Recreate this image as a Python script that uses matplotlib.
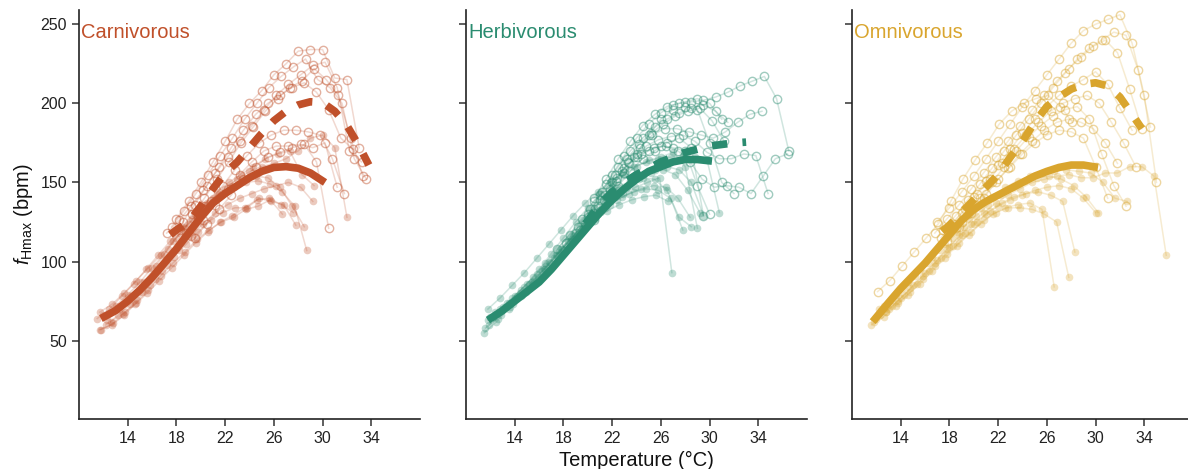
import matplotlib
matplotlib.use('Agg')
import matplotlib.pyplot as plt

plt.rcParams['font.family'] = ['Liberation Sans', 'DejaVu Sans']
plt.rcParams['mathtext.fontset'] = 'custom'
plt.rcParams['mathtext.rm'] = 'Liberation Sans'
plt.rcParams['mathtext.it'] = 'Liberation Sans:italic'

# --- data ---
groups = ['Carnivorous', 'Herbivorous', 'Omnivorous']
colors = {'Carnivorous': '#C0502A', 'Herbivorous': '#2A8C70', 'Omnivorous': '#D9A52E'}

# individual fish: (start temperature, fHmax at ~1 degC steps)
carn_warm = [
    (18.0, [127, 138, 150, 163, 176, 190, 200, 208, 218, 225, 233, 234, 234, 216, 215, 172]),
    (17.6, [122, 132, 143, 155, 167, 178, 190, 200, 210, 217, 223, 228, 215, 210, 200, 165, 152]),
    (18.3, [120, 130, 140, 152, 163, 175, 185, 195, 203, 210, 214, 222, 215, 205, 178, 154]),
    (18.8, [118, 128, 138, 148, 158, 167, 175, 180, 183, 183, 182, 180, 165, 143]),
    (19.2, [116, 126, 136, 146, 155, 163, 170, 173, 173, 174, 172, 175, 147]),
    (19.5, [115, 124, 133, 142, 152, 160, 166, 169, 172, 174, 163, 121]),
    (18.5, [125, 136, 148, 160, 172, 183, 193, 200, 205, 210, 213, 207, 196, 178, 171]),
    (17.2, [118, 126, 135, 145, 156, 166, 176, 186, 196, 205, 212, 218, 224, 226, 210, 170, 163]),
]
carn_cold = [
    (11.7, [57, 60, 66, 74, 82, 91, 99, 106, 114, 120, 125, 128, 133, 135, 139, 130]),
    (11.8, [57, 61, 68, 76, 85, 94, 103, 111, 119, 126, 131, 134, 134, 140, 138, 136, 123]),
    (11.7, [68, 73, 80, 88, 96, 104, 113, 121, 129, 136, 142, 147, 150, 151, 149, 144, 135, 107]),
    (12.0, [66, 72, 79, 87, 96, 105, 115, 124, 132, 140, 146, 152, 157, 160, 162, 165, 170, 178, 180, 172, 128]),
    (12.3, [63, 70, 78, 87, 97, 108, 118, 127, 136, 144, 150, 155, 160, 165, 168, 170, 155, 148]),
    (11.5, [64, 70, 78, 86, 95, 104, 113, 122, 130, 137, 143, 148, 152, 154, 153, 147, 135, 122]),
    (12.6, [62, 67, 73, 80, 88, 96, 104, 112, 119, 125, 129, 134, 139, 140, 136, 131]),
    (12.2, [60, 66, 73, 81, 89, 98, 107, 116, 124, 131, 136, 140, 143, 146, 148, 150, 147, 138]),
]
herb_warm = [
    (20.5, [140, 152, 165, 176, 186, 193, 198, 200, 201, 202, 204, 207, 211, 214, 217, 203, 170]),
    (20.0, [130, 142, 155, 167, 178, 187, 194, 199, 201, 203, 200, 190]),
    (20.3, [127, 139, 151, 163, 172, 180, 184, 184, 182, 180, 178, 182, 188, 193, 195]),
    (19.8, [124, 135, 146, 157, 166, 173, 177, 179, 180, 176, 169, 165, 165, 168, 167, 143]),
    (19.0, [118, 128, 139, 150, 159, 166, 170, 173, 172, 170, 148, 130]),
    (20.5, [126, 137, 148, 157, 165, 170, 175, 178, 172, 129]),
    (21.0, [132, 144, 156, 168, 180, 190, 196, 198, 196, 175, 150, 143]),
    (19.4, [120, 131, 142, 153, 162, 168, 172, 173, 170, 163, 152, 147, 148, 147, 143, 154, 165, 168]),
    (17.5, [108, 117, 127, 138, 149, 160, 170, 178, 185, 190, 194, 197, 199, 195, 188]),
    (18.2, [112, 122, 133, 144, 155, 165, 174, 181, 187, 192, 195, 197, 189, 176]),
]
herb_cold = [
    (11.5, [55, 62, 70, 78, 86, 95, 104, 113, 122, 130, 138, 145, 151, 155, 158, 160, 158, 150, 129]),
    (11.9, [60, 66, 73, 81, 90, 99, 108, 117, 125, 132, 138, 143, 147, 150, 153, 93]),
    (12.2, [65, 71, 78, 86, 94, 102, 110, 118, 126, 134, 141, 147, 152, 156, 158, 155, 145, 131]),
    (12.5, [67, 74, 82, 90, 99, 108, 117, 126, 134, 141, 147, 151, 153, 152, 145, 128, 122]),
    (11.8, [63, 70, 77, 84, 92, 100, 108, 116, 123, 130, 136, 141, 144, 146, 145, 140, 120]),
    (11.8, [70, 77, 85, 93, 102, 111, 120, 129, 137, 144, 150, 156, 160, 163, 165, 166, 167, 166, 164, 131]),
    (12.4, [68, 74, 80, 87, 95, 104, 113, 121, 128, 134, 139, 143, 146, 148, 147, 140, 128]),
    (11.6, [58, 64, 71, 79, 88, 97, 106, 114, 121, 127, 132, 136, 139, 141, 142, 138]),
    (12.0, [65, 71, 78, 86, 95, 105, 115, 125, 134, 142, 149, 155, 160, 164, 166, 169, 160, 121]),
]
omni_warm = [
    (17.0, [125, 134, 144, 154, 165, 176, 187, 198, 208, 218, 228, 238, 246, 250, 253, 256, 238, 205, 150]),
    (17.5, [120, 129, 139, 149, 159, 170, 180, 190, 200, 210, 219, 228, 235, 240, 245, 243, 221, 185]),
    (16.8, [118, 127, 136, 146, 156, 166, 176, 186, 196, 205, 214, 222, 229, 236, 240, 232, 209, 184]),
    (18.0, [122, 131, 141, 151, 161, 171, 181, 190, 198, 205, 211, 215, 220, 212, 197, 183]),
    (17.3, [115, 124, 133, 143, 152, 162, 171, 180, 188, 195, 200, 203, 205, 200, 188, 175, 160]),
    (18.5, [121, 130, 140, 150, 160, 170, 179, 186, 192, 196, 198, 190, 168, 148, 135]),
    (17.8, [113, 122, 131, 140, 150, 159, 168, 176, 183, 188, 190, 188, 184, 175, 162]),
    (19.0, [125, 134, 143, 152, 160, 168, 175, 180, 183, 182, 178, 160, 140]),
    (12.1, [81, 88, 97, 106, 115, 124, 138, 152, 164, 175, 187, 195, 200, 203, 205, 198, 188]),
]
omni_cold = [
    (11.8, [62, 68, 75, 83, 91, 99, 108, 116, 124, 131, 137, 142, 146, 150, 152, 154, 155, 153, 153, 156, 156, 160, 160, 154, 104]),
    (12.0, [64, 70, 77, 85, 93, 101, 109, 117, 124, 130, 135, 139, 142, 145, 147, 148, 146, 140, 131]),
    (12.3, [66, 72, 79, 86, 94, 102, 110, 118, 125, 132, 137, 141, 143, 144, 142, 138, 106]),
    (12.8, [68, 74, 81, 89, 97, 105, 112, 119, 126, 131, 134, 134, 133, 130, 125, 90]),
    (11.6, [60, 65, 72, 79, 86, 94, 102, 110, 117, 124, 130, 134, 136, 137, 133, 84]),
    (12.2, [70, 76, 83, 91, 99, 107, 115, 122, 129, 136, 142, 147, 151, 153, 154, 152, 148, 141, 131]),
    (12.6, [72, 79, 87, 95, 103, 111, 119, 127, 134, 141, 147, 151, 154, 156, 157, 158, 157, 156, 150, 140, 138]),
]

# group mean fits
carn_fit_cold_t = [11.8, 13, 14, 15, 16, 17, 18, 19, 20, 21, 22, 23, 24, 25, 26, 27, 28, 29, 30.2]
carn_fit_cold = [64, 69, 75, 82, 90, 99, 108, 118, 128, 137, 143, 148, 153, 157, 159.5, 160, 159, 156, 150]
carn_fit_warm_t = [17.5, 18, 19, 20, 21, 22, 23, 24, 25, 26, 27, 28, 29, 30, 31, 32, 33, 33.8]
carn_fit_warm = [117, 120, 125, 135, 146, 156, 163, 172, 181, 189, 195, 199, 201, 200.5, 195, 186, 173, 161]
herb_fit_cold_t = [11.8, 13, 14, 15, 16, 17, 18, 19, 20, 21, 22, 23, 24, 25, 26, 27, 28, 29, 30.2]
herb_fit_cold = [63, 69, 75, 81, 87, 95, 104, 113, 122, 131, 139, 146, 152, 157, 160, 163, 164.5, 164.5, 163.5]
herb_fit_warm_t = [19.8, 21, 22, 23, 24, 25, 26, 27, 28, 29, 30, 31, 32, 33]
herb_fit_warm = [124, 136, 144, 150, 155, 159, 163, 166, 169, 171, 173, 174, 175, 175.5]
omni_fit_cold_t = [11.7, 13, 14, 15, 16, 17, 18, 19, 20, 21, 22, 23, 24, 25, 26, 27, 28, 29, 30.2]
omni_fit_cold = [62, 74, 83, 91, 99, 108, 117, 126, 133, 138, 142, 146, 150, 154, 157, 159.5, 161, 161, 159.5]
omni_fit_warm_t = [17.4, 18, 19, 20, 21, 22, 23, 24, 25, 26, 27, 28, 29, 30, 31, 32, 33, 33.8]
omni_fit_warm = [119, 123, 131, 139, 147, 155, 166, 176, 188, 198, 204, 209, 212, 213, 211, 204, 193, 184]

panels = {
    'Carnivorous': (carn_warm, carn_cold, carn_fit_cold_t, carn_fit_cold, carn_fit_warm_t, carn_fit_warm),
    'Herbivorous': (herb_warm, herb_cold, herb_fit_cold_t, herb_fit_cold, herb_fit_warm_t, herb_fit_warm),
    'Omnivorous': (omni_warm, omni_cold, omni_fit_cold_t, omni_fit_cold, omni_fit_warm_t, omni_fit_warm),
}

fig = plt.figure(figsize=(11.88, 4.69), dpi=100)
lefts = [79, 466, 852]
for i, g in enumerate(groups):
    ax = fig.add_axes([lefts[i] / 1188, 1 - 419 / 469, 341 / 1188, 409 / 469])
    col = colors[g]
    warm, cold, fct, fc, fwt, fw = panels[g]
    for t0, vals in cold:
        ts = [t0 + k for k in range(len(vals))]
        ax.plot(ts, vals, '-', color=col, alpha=0.22, lw=1.1, zorder=1)
        ax.plot(ts, vals, 'o', color=col, alpha=0.3, ms=5.5, mew=0, zorder=2)
    for t0, vals in warm:
        ts = [t0 + k for k in range(len(vals))]
        ax.plot(ts, vals, '-', color=col, alpha=0.22, lw=1.1, zorder=1)
        ax.plot(ts, vals, 'o', mfc='none', mec=col, alpha=0.45, ms=6, mew=1.0, zorder=2)
    ax.plot(fct, fc, '-', color=col, lw=5.5, solid_capstyle='butt', zorder=3)
    ax.plot(fwt, fw, color=col, lw=5.5, dashes=(2, 2), dash_capstyle='butt', zorder=3)

    ax.set_xlim(10, 38)
    ax.set_ylim(0.5, 259)
    ax.set_xticks([14, 18, 22, 26, 30, 34])
    ax.set_yticks([50, 100, 150, 200, 250])
    ax.spines['top'].set_visible(False)
    ax.spines['right'].set_visible(False)
    for s in ['left', 'bottom']:
        ax.spines[s].set_linewidth(1.2)
        ax.spines[s].set_color('#222222')
    ax.tick_params(length=5, width=1.1, color='#333333', labelsize=11.5, labelcolor='#222222')
    if i > 0:
        ax.set_yticklabels([])
    else:
        ax.set_ylabel(r'$f_{\mathrm{Hmax}}$ (bpm)', fontsize=14.5, color='#111111')
    if i == 1:
        ax.set_xlabel('Temperature (°C)', fontsize=14.5, color='#111111')
    ax.text(0.006, 0.944, g, transform=ax.transAxes, color=col, fontsize=14.5,
            ha='left', va='center')

fig.savefig('out.png', dpi=100)
